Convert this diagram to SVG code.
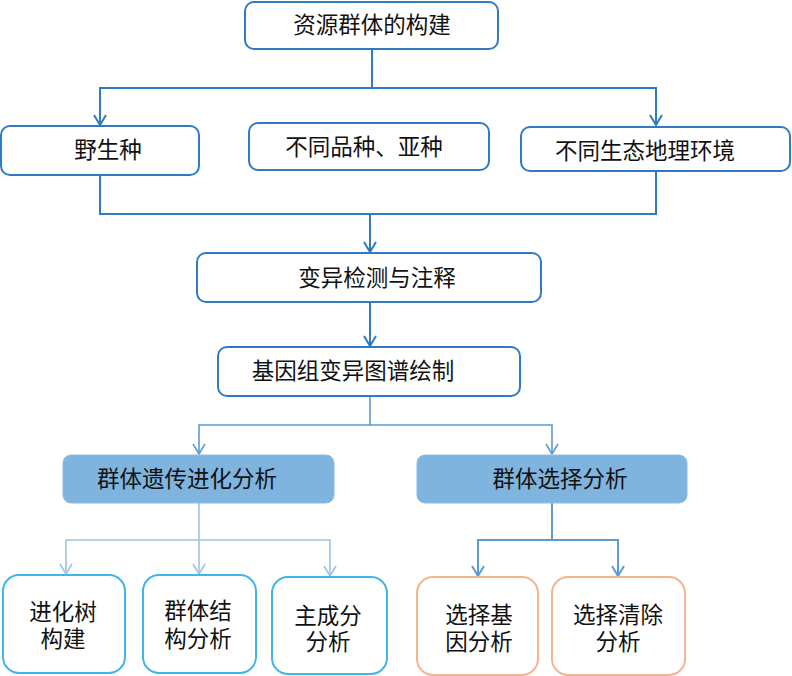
<svg xmlns="http://www.w3.org/2000/svg" width="792" height="676" viewBox="0 0 792 676">
<style>
text{font-family:"Liberation Sans","Noto Sans CJK SC",sans-serif;font-size:22.5px;fill:#111;text-anchor:middle}
.b{fill:#fff;stroke:#2e7bc4;stroke-width:2}
.f{fill:#7fb4de;stroke:#8dbde3;stroke-width:1}
.c{fill:#fff;stroke:#3fb5ea;stroke-width:2}
.o{fill:#fff;stroke:#f5b58c;stroke-width:2}
.l1{fill:none;stroke:#2e7bc4;stroke-width:2}
.l2{fill:none;stroke:#5b9bd5;stroke-width:1.6}
.l3{fill:none;stroke:#9cc3e8;stroke-width:1.6}
.l4{fill:none;stroke:#5b9bd5;stroke-width:2}
</style>
<defs>
<marker id="a1" viewBox="0 0 12 14" refX="11" refY="7" markerWidth="12" markerHeight="14" markerUnits="userSpaceOnUse" orient="auto"><path d="M1,1 L11,7 L1,13" fill="none" stroke="#2e7bc4" stroke-width="2"/></marker>
<marker id="a2" viewBox="0 0 12 14" refX="11" refY="7" markerWidth="12" markerHeight="14" markerUnits="userSpaceOnUse" orient="auto"><path d="M1,1 L11,7 L1,13" fill="none" stroke="#5b9bd5" stroke-width="1.6"/></marker>
<marker id="a3" viewBox="0 0 12 14" refX="11" refY="7" markerWidth="12" markerHeight="14" markerUnits="userSpaceOnUse" orient="auto"><path d="M1,1 L11,7 L1,13" fill="none" stroke="#9cc3e8" stroke-width="1.6"/></marker>
<marker id="a4" viewBox="0 0 12 14" refX="11" refY="7" markerWidth="12" markerHeight="14" markerUnits="userSpaceOnUse" orient="auto"><path d="M1,1 L11,7 L1,13" fill="none" stroke="#5b9bd5" stroke-width="2"/></marker>
</defs>
<g id="connectors">
<path class="l1" d="M372,49 V88 H100 V125" marker-end="url(#a1)"/>
<path class="l1" d="M372,88 H656 V125" marker-end="url(#a1)"/>
<path class="l1" d="M100,175 V214 H656 V171"/>
<path class="l1" d="M370,214 V252" marker-end="url(#a1)"/>
<path class="l1" d="M370,302 V346" marker-end="url(#a1)"/>
<path class="l2" d="M370,396 V425 H199 V454" marker-end="url(#a2)"/>
<path class="l2" d="M370,425 H552 V454" marker-end="url(#a2)"/>
<path class="l3" d="M199,503 V540 H66 V574" marker-end="url(#a3)"/>
<path class="l3" d="M199,540 V574" marker-end="url(#a3)"/>
<path class="l3" d="M199,540 H330 V576" marker-end="url(#a3)"/>
<path class="l4" d="M552,503 V540 H478 V576" marker-end="url(#a4)"/>
<path class="l4" d="M552,540 H618 V576" marker-end="url(#a4)"/>
</g>
<g id="n1"><rect class="b" x="245" y="2" width="253" height="47" rx="9"/><text x="372" y="33">资源群体的构建</text></g>
<g id="n2"><rect class="b" x="1" y="126" width="198" height="49" rx="9"/><text x="108" y="158">野生种</text></g>
<g id="n3"><rect class="b" x="249" y="123" width="240" height="47" rx="9"/><text x="364" y="155">不同品种、亚种</text></g>
<g id="n4"><rect class="b" x="521" y="127" width="269" height="44" rx="9"/><text x="645" y="159">不同生态地理环境</text></g>
<g id="n5"><rect class="b" x="197" y="253" width="344" height="49" rx="9"/><text x="377" y="286">变异检测与注释</text></g>
<g id="n6"><rect class="b" x="218" y="347" width="302" height="49" rx="9"/><text x="353" y="379">基因组变异图谱绘制</text></g>
<g id="n7"><rect class="f" x="63" y="455" width="271" height="48" rx="8"/><text x="187" y="487">群体遗传进化分析</text></g>
<g id="n8"><rect class="f" x="417" y="455" width="270" height="48" rx="8"/><text x="560" y="487">群体选择分析</text></g>
<g id="n9"><rect class="c" x="3" y="575" width="122" height="98" rx="16"/><text x="63" y="620">进化树</text><text x="63" y="647">构建</text></g>
<g id="n10"><rect class="c" x="143" y="575" width="113" height="98" rx="16"/><text x="198" y="619">群体结</text><text x="198" y="647">构分析</text></g>
<g id="n11"><rect class="c" x="272" y="577" width="115" height="97" rx="16"/><text x="328" y="624">主成分</text><text x="328" y="650">分析</text></g>
<g id="n12"><rect class="o" x="417" y="577" width="121" height="98" rx="16"/><text x="479" y="623">选择基</text><text x="479" y="650">因分析</text></g>
<g id="n13"><rect class="o" x="552" y="577" width="133" height="98" rx="16"/><text x="618" y="623">选择清除</text><text x="618" y="650">分析</text></g>
</svg>
